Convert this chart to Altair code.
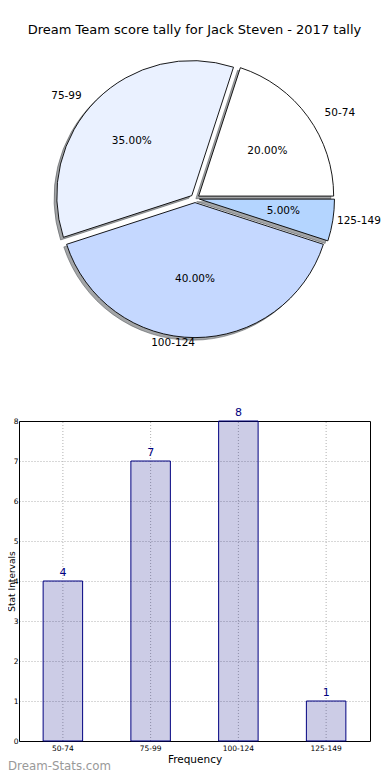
import altair as alt
import pandas as pd

# ---------------- data ----------------
labels = ["50-74", "75-99", "100-124", "125-149"]
counts = [4, 7, 8, 1]
slice_colors = ["#ffffff", "#eaf1ff", "#c5d8ff", "#b4d5ff"]
y_ticks = [0, 1, 2, 3, 4, 5, 6, 7, 8]
chart_title = "Dream Team score tally for Jack Steven - 2017 tally"
x_title = "Frequency"
y_title = "Stat Intervals"
watermark = "Dream-Stats.com"

df = pd.DataFrame({"label": labels, "count": counts, "order": list(range(len(labels)))})

# ---------------- layout (pixels, chart coordinates) ----------------
W, H = 374, 764
CX, CY = 187.0, 190.5      # pie centre
RX, RY = 141.5, 128.0      # label placement radii
LABEL_MAX_X = W - 45       # keep outer labels inside the picture
R = 135                    # wedge radius
EXPL = 0.032               # explode fraction
SH_DX, SH_DY = -2.8, 2.6   # shadow offset
X0, X1 = 11, 362           # bar plot area
Y0, Y1 = 733, 413
FONT = "DejaVu Sans"
NAVY = "#000080"
GRID = "#b0b0b0"

pie = (
    alt.Chart(df)
    .transform_joinaggregate(total="sum(count)")
    .transform_window(cum="sum(count)", sort=[alt.SortField("order", order="ascending")], frame=[None, 0])
    .transform_calculate(a0="(datum.cum - datum.count) / datum.total * 2 * PI")
    .transform_calculate(a1="datum.cum / datum.total * 2 * PI")
    .transform_calculate(am="(datum.a0 + datum.a1) / 2", t0="PI / 2 - datum.a1", t1="PI / 2 - datum.a0")
    .transform_calculate(
        cx=f"{CX} + {EXPL * RX} * cos(datum.am)",
        cy=f"{CY} - {EXPL * RY} * sin(datum.am)",
    )
    .transform_calculate(
        sx=f"datum.cx + ({SH_DX})",
        sy=f"datum.cy + ({SH_DY})",
        lx=f"min(datum.cx + {1.1 * RX} * cos(datum.am), {LABEL_MAX_X})",
        ly=f"datum.cy - {1.1 * RY} * sin(datum.am)",
        px=f"datum.cx + {0.6 * RX} * cos(datum.am)",
        py=f"datum.cy - {0.6 * RY} * sin(datum.am)",
        pct="format(datum.count / datum.total * 100, '.2f') + '%'",
    )
)


def PX(f):
    return alt.X(f"{f}:Q", scale=None, axis=None)


def PY(f):
    return alt.Y(f"{f}:Q", scale=None, axis=None)


theta = alt.Theta("t0:Q", scale=None)
theta2 = alt.Theta2("t1:Q")

shadow = pie.mark_arc(
    outerRadius=R, fill="#484b50", fillOpacity=0.5, stroke="#484b50", strokeOpacity=0.5, strokeWidth=1
).encode(x=PX("sx"), y=PY("sy"), theta=theta, theta2=theta2)

wedges = pie.mark_arc(outerRadius=R, stroke="black", strokeWidth=0.9).encode(
    x=PX("cx"), y=PY("cy"), theta=theta, theta2=theta2,
    color=alt.Color("label:N", scale=alt.Scale(domain=labels, range=slice_colors), legend=None),
)

labels_left = pie.transform_filter("cos(datum.am) >= 0").mark_text(
    align="left", baseline="middle", fontSize=10.5, color="black"
).encode(x=PX("lx"), y=PY("ly"), text="label:N")

labels_right = pie.transform_filter("cos(datum.am) < 0").mark_text(
    align="right", baseline="middle", fontSize=10.5, color="black"
).encode(x=PX("lx"), y=PY("ly"), text="label:N")

pcts = pie.mark_text(align="center", baseline="middle", fontSize=10.5, color="black").encode(
    x=PX("px"), y=PY("py"), text="pct:N"
)

# ---------------- bar chart ----------------
xscale = alt.Scale(domain=labels, range=[X0, X1], paddingInner=0.55, paddingOuter=0.275)
yscale = alt.Scale(domain=[0, 8], range=[Y0, Y1], nice=False)
common_axis = dict(
    ticks=False, domainColor="black", domainWidth=1, labelColor="black", labelFontSize=7.5,
    titleFontSize=10.5, titleFontWeight="normal", titleColor="black",
)

x_axis = alt.Axis(orient="bottom", offset=Y0 - H, title=x_title, labelAngle=0, bandPosition=0.5,
                  labelPadding=3, titlePadding=3, grid=False, **common_axis)
y_axis = alt.Axis(orient="left", offset=-X0, values=y_ticks, format="d", title=y_title,
                  labelPadding=1, grid=True, gridColor=GRID, gridDash=[1, 2], gridWidth=1,
                  titleX=-4.5, titleY=(Y0 + Y1) / 2, titleAngle=270, titleAlign="center",
                  titleBaseline="alphabetic", **{**common_axis, "titleFontSize": 9})

bar_x = alt.X("label:N", scale=xscale, sort=labels, axis=x_axis)

grid_x = alt.Chart().mark_rule(color=GRID, strokeDash=[1, 2], strokeWidth=1).encode(
    x=bar_x,
    y=alt.Y(datum=0, scale=yscale, axis=y_axis),
    y2=alt.Y2(datum=8),
)
bars = alt.Chart().mark_bar(fill=NAVY, fillOpacity=0.2, stroke=NAVY, strokeWidth=1).encode(
    x=bar_x, y=alt.Y("count:Q", scale=yscale, axis=y_axis)
)
bar_text = alt.Chart().mark_text(baseline="alphabetic", dy=-5, fontSize=11, color=NAVY).encode(
    x=bar_x, y=alt.Y("count:Q", scale=yscale, axis=y_axis), text="count:Q"
)
bar_layer = alt.layer(grid_x, bars, bar_text, data=df)

frame = alt.Chart(df).mark_bar(opacity=0).encode(
    x=alt.X("label:N", scale=xscale, sort=labels,
            axis=alt.Axis(orient="top", offset=-Y1, labels=False, ticks=False, title=None, grid=False,
                          domainColor="black", domainWidth=1)),
    y=alt.Y("count:Q", scale=yscale,
            axis=alt.Axis(orient="right", offset=X1 - W, labels=False, ticks=False, title=None, grid=False,
                          domainColor="black", domainWidth=1)),
)

title_mark = alt.Chart(pd.DataFrame({"t": [chart_title]})).mark_text(
    fontSize=13, align="center", baseline="middle", color="black"
).encode(x=alt.value(186.5), y=alt.value(21.5), text="t:N")

watermark_mark = alt.Chart(pd.DataFrame({"t": [watermark]})).mark_text(
    fontSize=11.8, align="left", baseline="alphabetic", color="#999999"
).encode(x=alt.value(0), y=alt.value(762), text="t:N")

chart = (
    alt.layer(shadow, wedges, labels_left, labels_right, pcts, bar_layer, frame, title_mark, watermark_mark)
    .resolve_scale(x="independent", y="independent")
    .resolve_axis(x="independent", y="independent")
    .properties(width=W, height=H, autosize=alt.AutoSizeParams(type="none"), padding=0)
    .configure(font=FONT)
    .configure_view(stroke=None)
)

chart.save("out.html", embed_options={"renderer": "svg", "actions": False})
